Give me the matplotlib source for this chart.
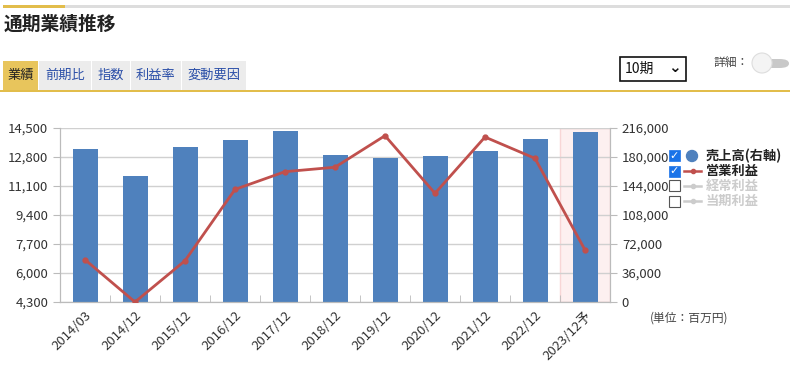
import matplotlib.pyplot as plt
import matplotlib.patches as mpatches
from matplotlib.lines import Line2D

plt.rcParams['font.family'] = ['Noto Sans CJK JP', 'DejaVu Sans']

periods = ["2014/03", "2014/12", "2015/12", "2016/12", "2017/12", "2018/12",
           "2019/12", "2020/12", "2021/12", "2022/12", "2023/12予"]
sales = [190000, 156800, 192800, 200700, 212300, 182500,
         178400, 181200, 187800, 202700, 210700]
op_profit = [6780, 4300, 6720, 10900, 11940, 12200,
             14050, 10670, 13970, 12720, 7350]
left_ticks = [4300, 6000, 7700, 9400, 11100, 12800, 14500]
right_ticks = [0, 36000, 72000, 108000, 144000, 180000, 216000]
tabs = ["業績", "前期比", "指数", "利益率", "変動要因"]

W, H = 800, 368
fig = plt.figure(figsize=(W / 100, H / 100), dpi=100)


def fx(px):
    return px / W


def fy(py):
    return 1 - py / H


def rect(x0, y0, x1, y1, **kw):
    fig.patches.append(mpatches.Rectangle((fx(x0), fy(y1)), fx(x1 - x0), (y1 - y0) / H,
                                          transform=fig.transFigure, **kw))


# header
rect(3, 5, 790, 8, color='#dddddd', lw=0)
rect(3, 5, 65, 8, color='#e2bd4b', lw=0)
fig.text(fx(4), fy(24), "通期業績推移", fontsize=13.5, fontweight='bold', color='#222222',
         va='center', ha='left')

# tabs
tab_x = [3, 39, 92, 131, 182]
tab_w = [35, 52, 38, 50, 64]
for i, t in enumerate(tabs):
    bg = '#e8c55c' if i == 0 else '#ececec'
    rect(tab_x[i], 61, tab_x[i] + tab_w[i], 90, color=bg, lw=0)
    fig.text(fx(tab_x[i] + tab_w[i] / 2), fy(75), t, fontsize=9.5,
             color='#222222' if i == 0 else '#2b4fa8', ha='center', va='center')
rect(0, 90, 790, 92, color='#e2bd4b', lw=0)

# dropdown / toggle
rect(620, 57, 686, 81, facecolor='white', edgecolor='#111111', lw=1.2)
fig.text(fx(625), fy(69), "10期", fontsize=10, ha='left', va='center', color='#111111')
fig.text(fx(674), fy(67), "⌄", fontsize=11, ha='center', va='center', color='#111111',
         fontweight='bold')
fig.text(fx(713), fy(63), "詳細：", fontsize=8.5, ha='left', va='center', color='#444444')
fig.patches.append(mpatches.FancyBboxPatch((fx(757), fy(68)), fx(32), 9 / H,
                                           boxstyle='round,pad=0.0,rounding_size=0.012',
                                           transform=fig.transFigure, color='#c8c8c8', lw=0))
fig.patches.append(mpatches.Ellipse((fx(762), fy(63)), fx(20), 20 / H,
                                    transform=fig.transFigure, facecolor='#f4f4f4',
                                    edgecolor='#dddddd', lw=0.8))

# chart
ax = fig.add_axes([fx(60), fy(302), fx(550), 174 / H])
ax2 = ax.twinx()
x = list(range(len(periods)))

ax2.axvspan(len(periods) - 1.5, len(periods) - 0.5, facecolor='#fdf0f0', edgecolor='#f8d6d6',
            lw=1, zorder=0)
ax2.bar(x, sales, width=0.5, color='#4f81bd', zorder=2)
ax.plot(x, op_profit, color='#c0504d', lw=2, marker='o', ms=3.5, zorder=5)

ax.set_zorder(ax2.get_zorder() + 1)
ax.patch.set_visible(False)

ax.set_xlim(-0.5, len(periods) - 0.5)
ax.set_ylim(4300, 14500)
ax2.set_ylim(0, 216000)
ax.set_yticks(left_ticks)
ax.set_yticklabels([f"{v:,}" for v in left_ticks])
ax2.set_yticks(right_ticks)
ax2.set_yticklabels([f"{v:,}" for v in right_ticks])

for v in left_ticks:
    ax2.axhline((v - 4300) / 10200 * 216000, color='#d0d0d0', lw=1, zorder=1)

ax.set_xticks(x)
ax.set_xticklabels(periods, rotation=45, ha='right', rotation_mode='anchor', fontsize=9.5,
                   color='#333333')
ax.set_xticks([i + 0.5 for i in x[:-1]], minor=True)
ax.tick_params(axis='x', which='major', length=0, pad=5)
ax.tick_params(axis='x', which='minor', direction='in', length=5, color='#bbbbbb')
ax.tick_params(axis='y', length=5, color='#bbbbbb', labelsize=9.5, labelcolor='#333333')
ax2.tick_params(axis='y', length=5, color='#bbbbbb', labelsize=9.5, labelcolor='#333333')

for a in (ax, ax2):
    a.spines['top'].set_visible(False)
    for s in ('left', 'right', 'bottom'):
        a.spines[s].set_color('#bbbbbb')

# legend
items = [("売上高(右軸)", True, 'circle'), ("営業利益", True, 'red'),
         ("経常利益", False, 'gray'), ("当期利益", False, 'gray')]
for i, (name, on, kind) in enumerate(items):
    yy = 156 + i * 15
    if on:
        rect(669, yy - 5.5, 680, yy + 5.5, facecolor='#1a73e8', edgecolor='#1a73e8', lw=0.5)
        fig.text(fx(674.5), fy(yy), "✓", fontsize=8, color='white', fontweight='bold',
                 ha='center', va='center', family=['DejaVu Sans'])
    else:
        rect(669, yy - 5.5, 680, yy + 5.5, facecolor='white', edgecolor='#555555', lw=0.8)
    if kind == 'circle':
        fig.patches.append(mpatches.Ellipse((fx(692), fy(yy)), fx(11), 11 / H,
                                            transform=fig.transFigure, color='#4f81bd'))
    else:
        c = '#c0504d' if kind == 'red' else '#cccccc'
        fig.lines.append(Line2D([fx(684), fx(701)], [fy(yy), fy(yy)], color=c, lw=1.8,
                                transform=fig.transFigure))
        fig.lines.append(Line2D([fx(692.5)], [fy(yy)], color=c, marker='o', ms=3,
                                transform=fig.transFigure))
    fig.text(fx(706), fy(yy), name, fontsize=9.5, fontweight='bold',
             color='#222222' if on else '#cccccc', ha='left', va='center')

fig.text(fx(650), fy(318), "(単位：百万円)", fontsize=8.5, color='#444444', ha='left',
         va='center')

fig.savefig('out.png', dpi=100)
